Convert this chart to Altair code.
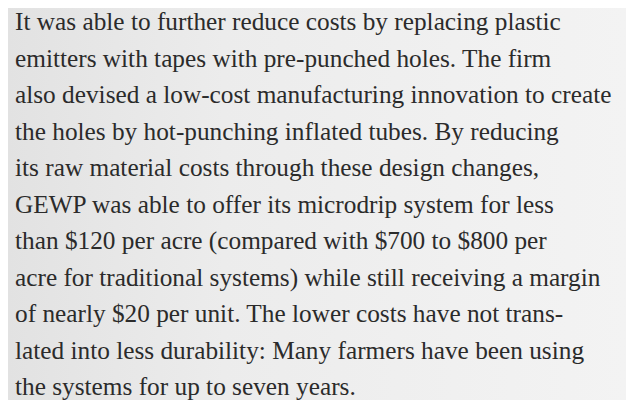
import altair as alt
import pandas as pd

lines = [
    "It was able to further reduce costs by replacing plastic",
    "emitters with tapes with pre-punched holes. The firm",
    "also devised a low-cost manufacturing innovation to create",
    "the holes by hot-punching inflated tubes. By reducing",
    "its raw material costs through these design changes,",
    "GEWP was able to offer its microdrip system for less",
    "than $120 per acre (compared with $700 to $800 per",
    "acre for traditional systems) while still receiving a margin",
    "of nearly $20 per unit. The lower costs have not trans-",
    "lated into less durability: Many farmers have been using",
    "the systems for up to seven years.",
]
line_no = list(range(len(lines)))

df = pd.DataFrame({"line": line_no, "text": lines})

W, H = 618, 392

bg = alt.Chart(pd.DataFrame({"a": [0]})).mark_rect(
    fill=alt.Gradient(
        gradient="linear",
        stops=[
            alt.GradientStop(color="#e2e2e2", offset=0),
            alt.GradientStop(color="#ececec", offset=0.35),
            alt.GradientStop(color="#f3f3f3", offset=1),
        ],
        x1=0, x2=1, y1=0, y2=0,
    )
).encode(x=alt.value(0), x2=alt.value(W), y=alt.value(0), y2=alt.value(H))

txt = alt.Chart(df).mark_text(
    align="left",
    baseline="alphabetic",
    font="Liberation Serif",
    fontSize=25.3,
    color="#2b2b2b",
).encode(
    x=alt.value(7),
    y=alt.Y("line:Q", scale=alt.Scale(domain=[0, 10], range=[22, 387]), axis=None),
    text="text:N",
)

chart = alt.layer(bg, txt).properties(
    width=W, height=H, autosize=alt.AutoSizeParams(type="none"), padding=0
).configure_view(stroke=None)

chart.save("out.html", embed_options={"renderer": "svg", "actions": False})
